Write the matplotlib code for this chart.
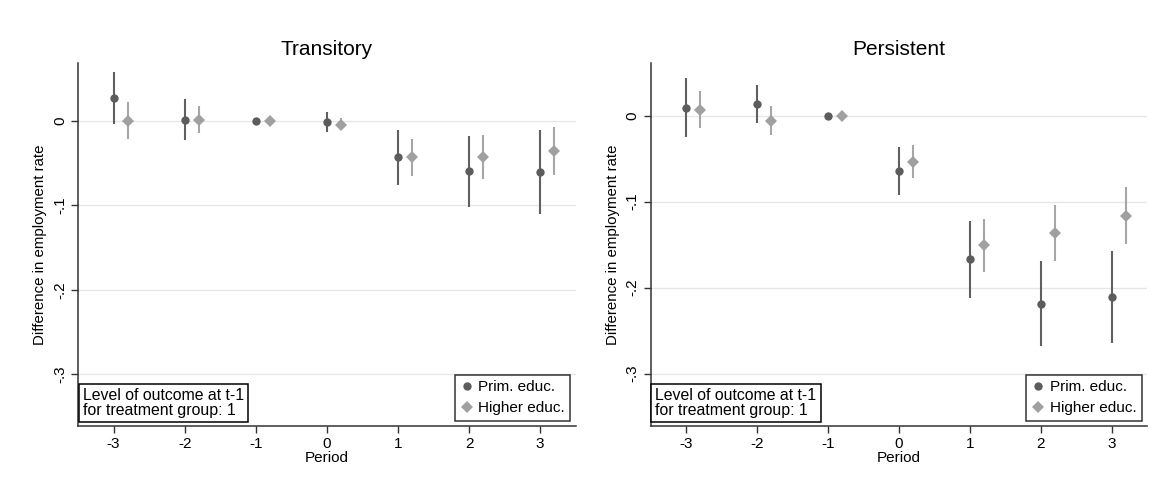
import matplotlib
matplotlib.use("Agg")
import matplotlib.pyplot as plt
import numpy as np

plt.rcParams['font.family'] = ['Liberation Sans', 'DejaVu Sans']

periods = [-3, -2, -1, 0, 1, 2, 3]
offset_higher = 0.2

# Transitory
trans_prim = [0.0265, 0.001, 0.0, -0.0015, -0.0433, -0.060, -0.061]
trans_prim_lo = [-0.004, -0.023, None, -0.013, -0.076, -0.1016, -0.111]
trans_prim_hi = [0.057, 0.025, None, 0.010, -0.011, -0.018, -0.011]
trans_high = [0.0, 0.001, 0.0, -0.005, -0.0433, -0.043, -0.036]
trans_high_lo = [-0.022, -0.015, None, -0.011, -0.065, -0.069, -0.064]
trans_high_hi = [0.0225, 0.0166, None, 0.003, -0.022, -0.017, -0.008]

# Persistent
pers_prim = [0.0093, 0.014, 0.0, -0.064, -0.167, -0.2186, -0.2109]
pers_prim_lo = [-0.0252, -0.0081, None, -0.0919, -0.2124, -0.268, -0.2643]
pers_prim_hi = [0.0434, 0.0357, None, -0.0368, -0.122, -0.1686, -0.1578]
pers_high = [0.0066, -0.0062, 0.0, -0.0535, -0.150, -0.1368, -0.1163]
pers_high_lo = [-0.0147, -0.0229, None, -0.0721, -0.1814, -0.1694, -0.1492]
pers_high_hi = [0.0287, 0.0112, None, -0.0345, -0.1198, -0.1043, -0.0829]

yticks = [0, -0.1, -0.2, -0.3]
ytick_labels = ['0', '-.1', '-.2', '-.3']
xtick_labels = ['-3', '-2', '-1', '0', '1', '2', '3']

c_prim = '#5c5c5c'
c_high = '#a0a0a0'
c_prim_line = '#606060'
c_high_line = '#a6a6a6'

W, H = 1165, 488
fig = plt.figure(figsize=(W / 100, H / 100), dpi=100)

panels = [
    dict(title='Transitory', rect=[78 / W, 62 / H, 497.7 / W, 363 / H], ylim=(-0.361, 0.068),
         p=trans_prim, plo=trans_prim_lo, phi=trans_prim_hi,
         h=trans_high, hlo=trans_high_lo, hhi=trans_high_hi),
    dict(title='Persistent', rect=[650.7 / W, 62 / H, 496.6 / W, 362.7 / H], ylim=(-0.361, 0.061),
         p=pers_prim, plo=pers_prim_lo, phi=pers_prim_hi,
         h=pers_high, hlo=pers_high_lo, hhi=pers_high_hi),
]

for pn in panels:
    ax = fig.add_axes(pn['rect'])
    x = np.array(periods, dtype=float)
    xh = x + offset_higher
    for xi, lo, hi in zip(x, pn['plo'], pn['phi']):
        if lo is not None:
            ax.vlines(xi, lo, hi, color=c_prim_line, lw=1.5, zorder=3)
    for xi, lo, hi in zip(xh, pn['hlo'], pn['hhi']):
        if lo is not None:
            ax.vlines(xi, lo, hi, color=c_high_line, lw=1.5, zorder=3)
    ax.plot(x, pn['p'], 'o', color=c_prim, ms=6, mew=0, ls='none', zorder=4, label='Prim. educ.')
    ax.plot(xh, pn['h'], 'D', color=c_high, ms=5.8, mew=0, ls='none', zorder=4, label='Higher educ.')

    ax.set_xlim(-3.5, 3.5)
    ax.set_ylim(*pn['ylim'])
    ax.set_xticks(periods)
    ax.set_xticklabels(xtick_labels, fontsize=11)
    ax.set_yticks(yticks)
    ax.set_yticklabels(ytick_labels, fontsize=11, rotation=90, va='center')
    for yt in yticks:
        ax.axhline(yt, color='#e6e6e6', lw=1, zorder=1)
    for s in ['top', 'right']:
        ax.spines[s].set_visible(False)
    for s in ['left', 'bottom']:
        ax.spines[s].set_color('#333333')
        ax.spines[s].set_linewidth(1.1)
    ax.tick_params(axis='both', length=5, width=1, color='#333333', pad=3)
    ax.set_xlabel('Period', fontsize=11, labelpad=0)
    ax.set_ylabel('Difference in employment rate', fontsize=10.8, labelpad=4)
    ax.set_title(pn['title'], fontsize=15, pad=6)

    ax.text(0.0095, 0.022, 'Level of outcome at t-1\nfor treatment group: 1', transform=ax.transAxes,
            fontsize=11.4, ha='left', va='bottom', linespacing=1.0,
            bbox=dict(boxstyle='square,pad=0.25', fc='white', ec='black', lw=1.1))
    leg = ax.legend(loc='lower right', bbox_to_anchor=(0.989, 0.015), fontsize=11, frameon=True,
                    fancybox=False, edgecolor='black', handletextpad=0.3, handlelength=0.9,
                    borderpad=0.35, labelspacing=0.45, borderaxespad=0)
    leg.get_frame().set_linewidth(1.1)

fig.savefig('out.png', dpi=100)
